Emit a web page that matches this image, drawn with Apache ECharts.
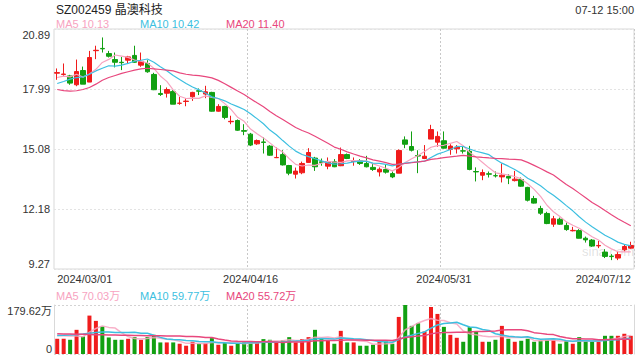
<!DOCTYPE html>
<html><head><meta charset="utf-8">
<script src="https://cdn.jsdelivr.net/npm/echarts@6/dist/echarts.min.js"></script>
<style>html,body{margin:0;padding:0;background:#fff}#c{width:640px;height:360px}</style>
</head><body><div id="c"></div>
<script>
const dates = [
'2024/03/01','2024/03/04','2024/03/05','2024/03/06','2024/03/07','2024/03/08',
'2024/03/11','2024/03/12','2024/03/13','2024/03/14','2024/03/15',
'2024/03/18','2024/03/19','2024/03/20','2024/03/21','2024/03/22',
'2024/03/25','2024/03/26','2024/03/27','2024/03/28','2024/03/29',
'2024/04/01','2024/04/02','2024/04/03',
'2024/04/08','2024/04/09','2024/04/10','2024/04/11','2024/04/12',
'2024/04/15','2024/04/16','2024/04/17','2024/04/18','2024/04/19',
'2024/04/22','2024/04/23','2024/04/24','2024/04/25','2024/04/26',
'2024/04/29','2024/04/30',
'2024/05/06','2024/05/07','2024/05/08','2024/05/09','2024/05/10',
'2024/05/13','2024/05/14','2024/05/15','2024/05/16','2024/05/17',
'2024/05/20','2024/05/21','2024/05/22','2024/05/23','2024/05/24',
'2024/05/27','2024/05/28','2024/05/29','2024/05/30','2024/05/31',
'2024/06/03','2024/06/04','2024/06/05','2024/06/06','2024/06/07',
'2024/06/11','2024/06/12','2024/06/13','2024/06/14',
'2024/06/17','2024/06/18','2024/06/19','2024/06/20','2024/06/21',
'2024/06/24','2024/06/25','2024/06/26','2024/06/27','2024/06/28',
'2024/07/01','2024/07/02','2024/07/03','2024/07/04','2024/07/05',
'2024/07/08','2024/07/09','2024/07/10','2024/07/11','2024/07/12'];

const opens = [18.75,18.69,18.62,18.19,18.88,18.32,19.84,19.95,19.70,19.41,
19.28,19.38,19.61,19.14,19.22,18.69,17.77,17.78,17.86,17.29,
17.38,17.61,17.90,17.74,17.82,16.91,17.14,16.40,16.46,15.97,
15.80,15.33,15.42,15.22,14.66,14.81,14.28,13.86,13.93,14.43,
14.64,14.46,14.25,14.46,14.27,14.81,14.48,14.51,14.38,14.19,
13.97,14.09,13.89,13.91,15.52,15.20,14.76,14.62,15.56,15.41,
15.48,15.06,15.09,14.99,14.97,13.99,13.81,13.88,13.79,13.73,
13.75,13.55,13.60,13.22,12.68,12.20,11.96,11.44,11.68,11.38,
11.12,11.13,10.76,10.67,10.39,10.09,9.89,9.80,10.20,10.28];
const closes = [18.78,18.71,18.27,18.83,18.22,19.51,19.86,19.93,19.57,19.28,
19.26,19.54,19.28,19.32,18.82,17.95,17.72,17.96,17.25,17.30,
17.40,17.82,17.88,17.85,16.91,17.14,16.61,16.42,15.99,15.94,
15.27,15.49,15.40,14.78,14.67,14.31,13.91,14.01,14.38,14.91,
14.22,14.43,14.46,14.22,14.81,14.62,14.50,14.38,14.22,14.09,
14.10,13.96,13.73,15.01,15.31,15.02,14.74,14.73,16.02,15.69,
15.12,15.22,15.17,14.98,14.09,13.97,13.94,13.86,13.78,13.81,
13.67,13.62,13.28,12.60,12.46,11.97,11.47,11.70,11.44,11.18,
11.14,10.76,10.68,10.38,10.41,9.88,9.87,9.97,10.36,10.41];
const lows = [18.43,18.62,18.19,18.12,18.22,18.32,19.43,19.75,19.51,19.03,
18.90,19.24,19.25,19.06,18.77,17.93,17.65,17.57,17.25,17.22,
17.15,17.41,17.69,17.54,16.89,16.89,16.52,16.28,15.96,15.75,
15.22,15.28,14.86,14.75,14.64,14.28,13.81,13.65,13.86,14.43,
14.02,14.27,14.10,14.20,14.25,14.59,14.27,14.31,14.19,14.02,
13.75,13.89,13.67,13.91,15.12,14.96,13.91,14.59,15.56,15.19,
15.10,14.80,14.86,14.86,14.05,13.51,13.57,13.70,13.70,13.46,
13.38,13.51,13.25,12.54,12.44,11.89,11.44,11.31,11.41,11.12,
11.09,10.75,10.55,10.34,10.28,9.80,9.70,9.70,10.12,10.25];
const highs = [18.98,19.22,18.67,19.41,19.07,19.83,20.08,20.48,19.83,19.75,
19.54,19.59,20.08,19.75,19.38,18.77,18.17,18.06,17.93,17.60,
17.54,17.85,18.01,18.14,17.85,17.25,17.17,16.69,16.51,16.28,
15.86,15.54,15.64,15.27,15.15,15.02,14.31,14.18,14.47,15.12,
14.70,14.62,14.67,14.59,15.15,14.86,14.67,14.59,14.75,14.35,
14.19,14.33,13.99,15.06,15.69,15.93,15.02,15.27,16.25,15.93,
15.93,15.31,15.27,15.19,15.23,14.19,14.09,13.99,13.99,14.38,
13.86,14.02,13.70,13.25,12.81,12.33,12.04,11.84,11.76,11.52,
11.31,11.20,10.84,10.72,10.63,10.23,9.99,10.12,10.47,10.59];
// volume in 万
const volumes = [55.8,55.8,52.1,88.6,64.3,140.8,121.4,100.7,60.6,52.1,
52.1,55.8,61.8,52.1,61.8,70.3,42.4,42.4,42.4,37.6,
30.3,44.8,37.6,40.0,58.2,33.9,42.4,30.3,40.0,42.4,
42.4,46.1,54.6,52.1,42.4,49.7,61.8,42.4,54.6,61.8,
88.6,57.0,49.7,37.6,84.9,42.4,42.4,30.3,30.3,33.9,
46.1,46.1,37.6,135.9,179.6,103.1,112.8,82.5,172.4,146.9,
99.5,70.3,59.4,44.8,98.3,81.3,44.8,44.8,52.1,103.1,
55.8,44.8,48.5,55.8,44.8,49.7,52.1,52.1,37.6,48.5,
37.6,61.8,48.5,44.8,44.8,66.7,66.7,66.7,74.2,66.7];

const ma5Head = [18.54,18.61,18.57,18.70];
const ma10Head = [18.25,18.35,18.46,18.54,18.57,18.70,18.86,18.99,19.11];
const ma20Head = [17.96,17.91,17.88,17.90,17.96,18.06,18.22,18.41,18.54,18.64,
18.74,18.82,18.90,18.96,18.99,18.96,18.93,18.90,18.86];
const vma5Head = [68,67,66,66];
const vma10Head = [67.9,68.5,69.5,71,73,76,78.5,80.5,81];
const vma20Head = [74,73.5,73,72.5,72,71.5,71,70.5,70,69.5,69,68.5,68,67.5,67,66.8,66.5,66,65.7];

const priceTicks = ['9.27','12.18','15.08','17.99','20.89'];
const volTicks = ['0','179.62万'];
const titleText = 'SZ002459 晶澳科技';
const timeText = '07-12 15:00';
const priceLegend = ['MA5 10.13','MA10 10.42','MA20 11.40'];
const volLegend = ['MA5 70.03万','MA10 59.77万','MA20 55.72万'];
const shownDates = [0,30,60,89];

const UP = '#f01c1c', DOWN = '#12a012';
const MAC = ['#f7a3bf','#3cbfe0','#e8477d'];

function ma(arr, n, head) {
  return arr.map((v, i) => {
    if (i < n - 1) return head[i];
    let s = 0; for (let k = i - n + 1; k <= i; k++) s += arr[k];
    return +(s / n).toFixed(3);
  });
}
const kdata = opens.map((o, i) => [o, closes[i], lows[i], highs[i]]);
const volData = volumes.map((v, i) => ({value: v, itemStyle: {color: closes[i] >= opens[i] ? UP : DOWN}}));

const chart = echarts.init(document.getElementById('c'), null, {renderer: 'svg'});
const FONT = '"Liberation Sans", Arial, "Noto Sans CJK SC", sans-serif';
const txt = (x, y, text, color, size, align) => ({
  type: 'text', x: x, y: y,
  style: {text: text, fill: color, font: size + 'px ' + FONT, textAlign: align || 'left', textVerticalAlign: 'middle'}
});
const vSplit = {show: true, interval: (i) => i === 30 || i === 60, lineStyle: {color: '#c8c8c8', type: [2, 2], width: 1}};

chart.setOption({
  animation: false,
  textStyle: {fontFamily: FONT},
  grid: [
    {left: 54, right: 6, top: 29, height: 240, show: true, borderColor: '#d9d9d9', borderWidth: 1},
    {left: 54, right: 6, top: 305, height: 49}
  ],
  xAxis: [
    {type: 'category', gridIndex: 0, data: dates, boundaryGap: true,
     axisLine: {show: false}, axisTick: {show: false},
     axisLabel: {interval: (i) => shownDates.includes(i), color: '#333', fontSize: 11, margin: 4,
                 alignMinLabel: 'left', alignMaxLabel: 'right'},
     splitLine: vSplit},
    {type: 'category', gridIndex: 1, data: dates, boundaryGap: true,
     axisLine: {show: false}, axisTick: {show: false}, axisLabel: {show: false},
     splitLine: vSplit}
  ],
  yAxis: [
    {type: 'value', gridIndex: 0, min: 9.27, max: 20.89, interval: 2.905, scale: true,
     axisLine: {show: false}, axisTick: {show: false},
     axisLabel: {color: '#333', fontSize: 11, margin: 4,
                 formatter: (v) => priceTicks[Math.round((v - 9.27) / 2.905)],
                 verticalAlignMinLabel: 'bottom', verticalAlignMaxLabel: 'top'},
     splitLine: {lineStyle: {color: '#e3e3e3', type: [2, 2], width: 1}}},
    {type: 'value', gridIndex: 1, min: 0, max: 179.62, interval: 179.62,
     axisLine: {show: true, lineStyle: {color: '#d9d9d9'}}, axisTick: {show: false},
     axisLabel: {color: '#333', fontSize: 11, margin: 2,
                 formatter: (v) => volTicks[Math.round(v / 179.62)],
                 verticalAlignMinLabel: 'bottom', verticalAlignMaxLabel: 'top'},
     splitLine: {lineStyle: {color: '#d3d3d3', type: [2, 2], width: 1}}},
    {type: 'value', gridIndex: 1, position: 'right', min: 0, max: 179.62, interval: 179.62,
     axisLine: {show: true, lineStyle: {color: '#d9d9d9'}}, axisTick: {show: false},
     axisLabel: {show: false}, splitLine: {show: false}}
  ],
  series: [
    {type: 'candlestick', xAxisIndex: 0, yAxisIndex: 0, data: kdata, barWidth: 5,
     itemStyle: {color: UP, color0: DOWN, borderColor: UP, borderColor0: DOWN, borderWidth: 1}},
    {type: 'line', xAxisIndex: 0, yAxisIndex: 0, data: ma(closes, 5, ma5Head), showSymbol: false, lineStyle: {color: MAC[0], width: 1.2}},
    {type: 'line', xAxisIndex: 0, yAxisIndex: 0, data: ma(closes, 10, ma10Head), showSymbol: false, lineStyle: {color: MAC[1], width: 1.2}},
    {type: 'line', xAxisIndex: 0, yAxisIndex: 0, data: ma(closes, 20, ma20Head), showSymbol: false, lineStyle: {color: MAC[2], width: 1.2}},
    {type: 'bar', xAxisIndex: 1, yAxisIndex: 1, data: volData, barWidth: 4},
    {type: 'line', xAxisIndex: 1, yAxisIndex: 1, data: ma(volumes, 5, vma5Head), showSymbol: false, lineStyle: {color: MAC[0], width: 1.5, opacity: 0.85}},
    {type: 'line', xAxisIndex: 1, yAxisIndex: 1, data: ma(volumes, 10, vma10Head), showSymbol: false, lineStyle: {color: MAC[1], width: 1.5}},
    {type: 'line', xAxisIndex: 1, yAxisIndex: 1, data: ma(volumes, 20, vma20Head), showSymbol: false, lineStyle: {color: MAC[2], width: 1.5}}
  ],
  graphic: [
    txt(56, 10, titleText, '#222', 12),
    txt(634, 10, timeText, '#333', 11, 'right'),
    txt(56, 24, priceLegend[0], MAC[0], 11),
    txt(140, 24, priceLegend[1], MAC[1], 11),
    txt(226, 24, priceLegend[2], MAC[2], 11),
    txt(56, 296, volLegend[0], MAC[0], 11),
    txt(140, 296, volLegend[1], MAC[1], 11),
    txt(226, 296, volLegend[2], MAC[2], 11),
    {type: 'text', x: 582, y: 251, z: -1, style: {text: 'sina.com', fill: 'rgba(120,120,120,0.22)', font: '13px ' + FONT, textVerticalAlign: 'middle'}}
  ]
});
</script></body></html>
